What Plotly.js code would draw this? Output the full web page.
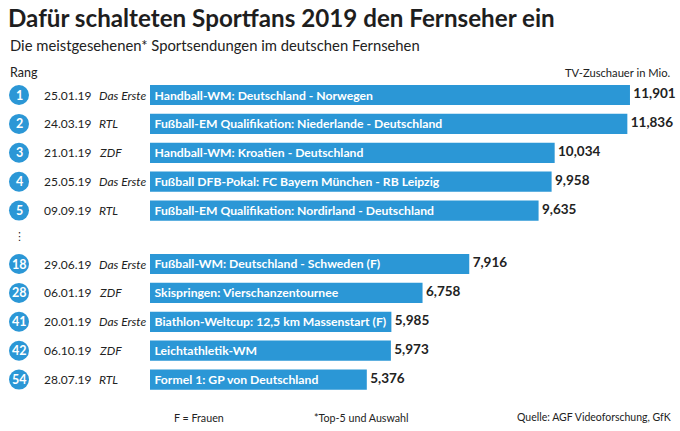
<!DOCTYPE html>
<html><head><meta charset="utf-8">
<script src="https://cdn.plot.ly/plotly-3.0.1.min.js"></script>
<style>html,body{margin:0;padding:0;background:#fff}#chart{width:680px;height:431px}</style>
</head><body><div id="chart"></div>
<script>
// ---- data ----
const ranksTop = ["1", "2", "3", "4", "5"];
const datesTop = ["25.01.19", "24.03.19", "21.01.19", "25.05.19", "09.09.19"];
const channelsTop = ["Das Erste", "RTL", "ZDF", "Das Erste", "RTL"];
const eventsTop = [
  "Handball-WM: Deutschland - Norwegen",
  "Fußball-EM Qualifikation: Niederlande - Deutschland",
  "Handball-WM: Kroatien - Deutschland",
  "Fußball DFB-Pokal: FC Bayern München - RB Leipzig",
  "Fußball-EM Qualifikation: Nordirland - Deutschland"
];
const viewersTop = [11.901, 11.836, 10.034, 9.958, 9.635];

const ranksBottom = ["18", "28", "41", "42", "54"];
const datesBottom = ["29.06.19", "06.01.19", "20.01.19", "06.10.19", "28.07.19"];
const channelsBottom = ["Das Erste", "ZDF", "Das Erste", "ZDF", "RTL"];
const eventsBottom = [
  "Fußball-WM: Deutschland - Schweden (F)",
  "Skispringen: Vierschanzentournee",
  "Biathlon-Weltcup: 12,5 km Massenstart (F)",
  "Leichtathletik-WM",
  "Formel 1: GP von Deutschland"
];
const viewersBottom = [7.916, 6.758, 5.985, 5.973, 5.376];

// ---- layout constants ----
const W = 680, H = 431;
const BLUE = "#2b97d6";
const DARK = "#222222";
const SANS = "Lato, Open Sans, sans-serif";
const px = x => x / W;
const py = y => 1 - y / H;
const fmt = v => v.toFixed(3).replace(".", ",");

const barLeft = 150, pxPerUnit = 40.33;
const rowStep = 28.9;
const topFirst = 95, botFirst = 264;

function barTrace(ranks, events, vals, ax) {
  return {
    type: "bar", orientation: "h", x: vals, y: ranks, yaxis: ax,
    marker: {color: BLUE, line: {width: 0}},
    text: events, texttemplate: "\u2009%{text}",
    textposition: "inside", insidetextanchor: "start",
    constraintext: "none",
    insidetextfont: {family: SANS, size: 12.2, color: "#ffffff", weight: 700},
    hoverinfo: "skip", showlegend: false
  };
}
function valTrace(ranks, vals, ax) {
  return {
    type: "scatter", mode: "text", x: vals, y: ranks, yaxis: ax,
    text: vals.map(fmt), texttemplate: "\u2009\u2009%{text}",
    textposition: "middle right", cliponaxis: false,
    textfont: {family: SANS, size: 13.5, color: DARK, weight: 700},
    hoverinfo: "skip", showlegend: false
  };
}

const data = [
  barTrace(ranksTop, eventsTop, viewersTop, "y"),
  barTrace(ranksBottom, eventsBottom, viewersBottom, "y2"),
  valTrace(ranksTop, viewersTop, "y"),
  valTrace(ranksBottom, viewersBottom, "y2")
];

const annotations = [];
const shapes = [];
function rowDecor(ranks, dates, channels, yref) {
  ranks.forEach((r, i) => {
    shapes.push({type: "circle", xref: "paper", yref: yref,
      xsizemode: "pixel", ysizemode: "pixel", xanchor: px(19), yanchor: i,
      x0: -10, x1: 10, y0: -10, y1: 10,
      fillcolor: BLUE, line: {width: 0}, layer: "above"});
    annotations.push({xref: "paper", yref: yref, x: px(19), y: i, text: "<b>" + r + "</b>",
      showarrow: false, xanchor: "center", yanchor: "middle",
      font: {family: SANS, size: 12.5, color: "#fff"}});
    annotations.push({xref: "paper", yref: yref, x: px(42), y: i, text: dates[i],
      showarrow: false, xanchor: "left", yanchor: "middle",
      font: {family: SANS, size: 12, color: DARK}});
    annotations.push({xref: "paper", yref: yref, x: px(97), y: i, text: "<i>" + channels[i] + "</i>",
      showarrow: false, xanchor: "left", yanchor: "middle",
      font: {family: SANS, size: 12, color: DARK}});
  });
}
rowDecor(ranksTop, datesTop, channelsTop, "y");
rowDecor(ranksBottom, datesBottom, channelsBottom, "y2");

const txt = (x, y, text, font, xanchor) => annotations.push({
  xref: "paper", yref: "paper", x: px(x), y: py(y), text: text, showarrow: false,
  xanchor: xanchor || "left", yanchor: "middle", font: font});
txt(8, 45, "Die meistgesehenen* Sportsendungen im deutschen Fernsehen", {family: SANS, size: 14.8, color: DARK});
txt(8, 72, "Rang", {family: SANS, size: 12.5, color: DARK});
txt(673, 72, "TV-Zuschauer in Mio.", {family: SANS, size: 11.2, color: DARK}, "right");
txt(19, 236, "⋮", {family: "DejaVu Sans", size: 11, color: DARK}, "center");
txt(172, 417, "F = Frauen", {family: SANS, size: 10.7, color: DARK});
txt(312, 417, "*Top-5 und Auswahl", {family: SANS, size: 10.7, color: DARK});
txt(673, 417, "Quelle: AGF Videoforschung, GfK", {family: SANS, size: 10.5, color: DARK}, "right");

const topTop = topFirst - rowStep / 2, topBot = topFirst + rowStep * 4.5;
const botTop = botFirst - rowStep / 2, botBot = botFirst + rowStep * 4.5;

const layout = {
  width: W, height: H,
  margin: {l: 0, r: 0, t: 0, b: 0, pad: 0},
  paper_bgcolor: "#fff", plot_bgcolor: "rgba(0,0,0,0)",
  title: {text: "<b>Dafür schalteten Sportfans 2019 den Fernseher ein</b>",
    xref: "container", yref: "container", x: px(8), y: py(19),
    xanchor: "left", yanchor: "middle",
    font: {family: SANS, size: 24.2, color: "#1e1e1e"}},
  bargap: 0.3,
  xaxis: {domain: [px(barLeft), 1], range: [0, (W - barLeft) / pxPerUnit],
    visible: false, fixedrange: true},
  yaxis: {domain: [py(topBot), py(topTop)], type: "category", autorange: "reversed",
    visible: false, fixedrange: true},
  yaxis2: {domain: [py(botBot), py(botTop)], type: "category", autorange: "reversed",
    visible: false, fixedrange: true, anchor: "x"},
  shapes: shapes,
  annotations: annotations,
  showlegend: false
};

Plotly.newPlot("chart", data, layout, {displayModeBar: false, staticPlot: true});
</script></body></html>
